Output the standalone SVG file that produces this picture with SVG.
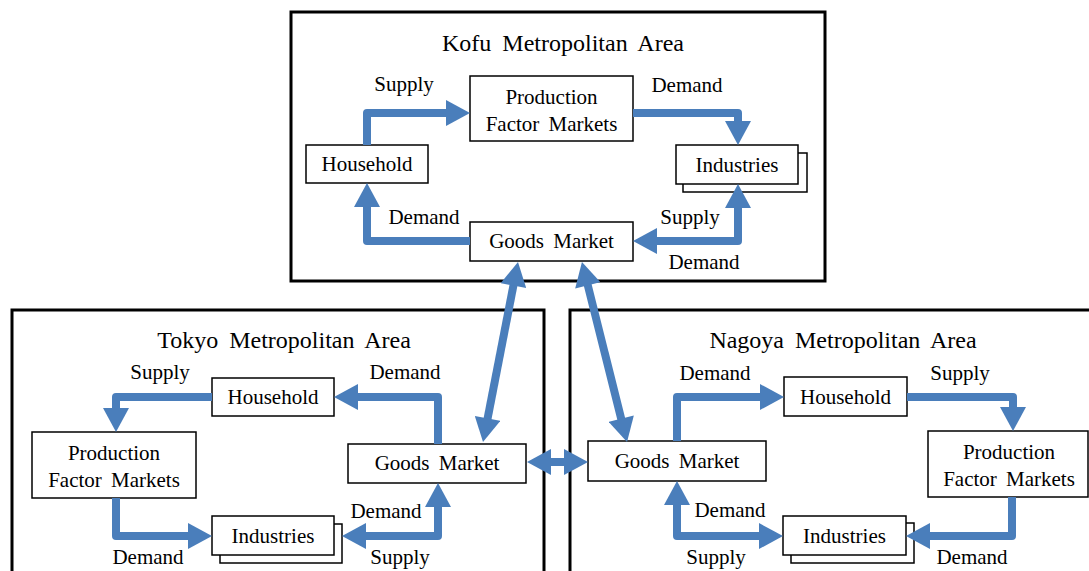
<svg xmlns="http://www.w3.org/2000/svg" width="1089" height="571" viewBox="0 0 1089 571">
<style>
.area{fill:#fff;stroke:#000;stroke-width:3}
.node{fill:#fff;stroke:#000;stroke-width:1.5}
.t{font-family:"Liberation Serif","Times New Roman",serif;font-size:21px;text-anchor:middle;fill:#000;word-spacing:4px}
.title{font-family:"Liberation Serif","Times New Roman",serif;font-size:24px;text-anchor:middle;fill:#000;word-spacing:5px}
.c{fill:none;stroke:#4a7ebb;stroke-width:8;stroke-linejoin:round}
.one{marker-end:url(#ah)}
.two{marker-start:url(#ah);marker-end:url(#ah)}
</style>
<defs>
<marker id="ah" markerUnits="userSpaceOnUse" markerWidth="26" markerHeight="26" viewBox="0 0 24 26" refX="2" refY="13" orient="auto-start-reverse">
<path d="M0,0 L24,13 L0,26 z" fill="#4a7ebb"/>
</marker>
</defs>
<rect width="1089" height="571" fill="#fff"/>

<g id="kofu-area">
<rect class="area" x="291" y="12" width="534" height="269"/>
<text class="title" x="563" y="51">Kofu Metropolitan Area</text>
</g>
<g id="tokyo-area">
<rect class="area" x="12" y="310" width="532" height="280"/>
<text class="title" x="284" y="348">Tokyo Metropolitan Area</text>
</g>
<g id="nagoya-area">
<rect class="area" x="570" y="310" width="530" height="280"/>
<text class="title" x="843" y="348">Nagoya Metropolitan Area</text>
</g>

<g id="kofu-pfm"><rect class="node" x="470" y="76" width="163" height="65"/><text class="t" x="551.5" y="104">Production</text><text class="t" x="551.5" y="131">Factor Markets</text></g>
<g id="kofu-household"><rect class="node" x="306" y="145" width="122" height="38"/><text class="t" x="367" y="171">Household</text></g>
<g id="kofu-industries"><rect class="node" x="683" y="153" width="124" height="39"/><rect class="node" x="676" y="145" width="122" height="39"/><text class="t" x="737" y="172">Industries</text></g>
<g id="kofu-goods"><rect class="node" x="470" y="222" width="163" height="39"/><text class="t" x="551.5" y="248">Goods Market</text></g>

<g id="tokyo-household"><rect class="node" x="212" y="378" width="122" height="38"/><text class="t" x="273" y="404">Household</text></g>
<g id="tokyo-pfm"><rect class="node" x="32" y="432" width="164" height="66"/><text class="t" x="114" y="460">Production</text><text class="t" x="114" y="487">Factor Markets</text></g>
<g id="tokyo-goods"><rect class="node" x="348" y="444" width="178" height="39"/><text class="t" x="437" y="470">Goods Market</text></g>
<g id="tokyo-industries"><rect class="node" x="220" y="524" width="122" height="39"/><rect class="node" x="212" y="516" width="122" height="39"/><text class="t" x="273" y="543">Industries</text></g>

<g id="nagoya-goods"><rect class="node" x="588" y="441" width="178" height="40"/><text class="t" x="677" y="468">Goods Market</text></g>
<g id="nagoya-household"><rect class="node" x="784" y="377" width="123" height="39"/><text class="t" x="845.5" y="404">Household</text></g>
<g id="nagoya-pfm"><rect class="node" x="928" y="431" width="160" height="66"/><text class="t" x="1009" y="459">Production</text><text class="t" x="1009" y="486">Factor Markets</text></g>
<g id="nagoya-industries"><rect class="node" x="791" y="523" width="123" height="40"/><rect class="node" x="783" y="516" width="123" height="39"/><text class="t" x="844.5" y="543">Industries</text></g>

<g id="connectors">
<path class="c one" d="M367,145 V113 H448"/>
<path class="c one" d="M633,113 H738 V123"/>
<path class="c one" d="M470,241 H367 V205"/>
<path class="c two" d="M738,206 V241 H655"/>

<path class="c one" d="M212,397 H116 V410"/>
<path class="c one" d="M438,444 V397 H356"/>
<path class="c one" d="M116,498 V536 H190"/>
<path class="c two" d="M438,505 V536 H364"/>

<path class="c one" d="M677,441 V397 H762"/>
<path class="c one" d="M907,397 H1013 V409"/>
<path class="c one" d="M1012,497 V536 H928"/>
<path class="c two" d="M677,503 V536 H761"/>

<path class="c two" d="M513.8,283.6 L487.2,420.4"/>
<path class="c two" d="M587.3,283.4 L621.7,420.7"/>
<path class="c two" d="M549,462 H566"/>
</g>

<g id="labels">
<text class="t" x="404" y="91">Supply</text>
<text class="t" x="687" y="92">Demand</text>
<text class="t" x="424" y="224">Demand</text>
<text class="t" x="690" y="224">Supply</text>
<text class="t" x="704" y="269">Demand</text>

<text class="t" x="160" y="379">Supply</text>
<text class="t" x="405" y="379">Demand</text>
<text class="t" x="148" y="564">Demand</text>
<text class="t" x="386" y="518">Demand</text>
<text class="t" x="400" y="564">Supply</text>

<text class="t" x="715" y="380">Demand</text>
<text class="t" x="960" y="380">Supply</text>
<text class="t" x="730" y="517">Demand</text>
<text class="t" x="716" y="564">Supply</text>
<text class="t" x="972" y="564">Demand</text>
</g>
</svg>
